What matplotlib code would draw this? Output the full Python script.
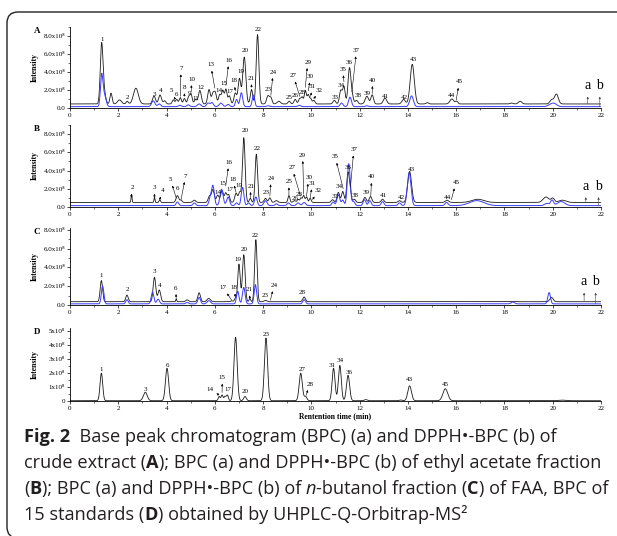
import matplotlib

matplotlib.use("Agg")
import matplotlib.pyplot as plt
import numpy as np
from matplotlib.patches import FancyBboxPatch
from matplotlib.ticker import FuncFormatter, MultipleLocator
from matplotlib.transforms import IdentityTransform

SERIF = ["Liberation Serif", "DejaVu Serif"]
SANS = ["Open Sans", "DejaVu Sans"]

# peaks: (retention time min, height x1e8, width min)
A_bpc = [
    (1.31, 6.6, 0.055), (1.42, 1.2, 0.06), (1.70, 1.2, 0.045), (2.05, 0.45, 0.08),
    (2.37, 0.3, 0.045), (2.73, 1.75, 0.1), (3.48, 0.9, 0.06), (3.73, 1.0, 0.06),
    (3.92, 0.35, 0.05), (4.28, 0.45, 0.045), (4.42, 0.5, 0.045), (4.57, 0.7, 0.045),
    (4.74, 0.6, 0.045), (4.92, 0.8, 0.05), (5.02, 1.0, 0.045), (5.20, 0.5, 0.05),
    (5.38, 1.5, 0.06), (5.76, 1.6, 0.055), (5.92, 1.1, 0.05), (6.02, 1.2, 0.05),
    (6.20, 1.0, 0.05), (6.33, 1.5, 0.05), (6.46, 1.6, 0.045), (6.60, 0.9, 0.05),
    (6.85, 1.2, 0.055), (7.02, 2.8, 0.055), (7.22, 5.2, 0.065), (7.52, 1.6, 0.05),
    (7.77, 7.7, 0.055), (8.20, 0.9, 0.055), (8.32, 0.7, 0.05), (8.65, 0.3, 0.07),
    (9.08, 0.3, 0.05), (9.33, 0.5, 0.05), (9.52, 0.6, 0.05), (9.62, 0.7, 0.04),
    (9.75, 1.5, 0.045), (9.87, 1.0, 0.04), (9.97, 0.6, 0.04), (10.10, 0.4, 0.05),
    (10.95, 0.4, 0.055), (11.22, 1.5, 0.055), (11.35, 1.9, 0.05), (11.58, 4.0, 0.06),
    (11.70, 0.7, 0.05), (11.87, 0.4, 0.055), (12.30, 0.85, 0.07), (12.52, 1.0, 0.055),
    (13.05, 0.65, 0.07), (13.82, 0.5, 0.07), (14.18, 4.4, 0.085), (14.80, 0.15, 0.05),
    (15.82, 0.55, 0.08), (16.02, 0.3, 0.05), (18.30, 0.1, 0.06), (18.65, 0.3, 0.07),
    (19.95, 0.45, 0.07), (20.15, 1.1, 0.08),
]
A_dpph = [
    (1.31, 3.3, 0.05), (1.42, 1.3, 0.07), (3.45, 0.65, 0.07), (3.70, 0.3, 0.06),
    (4.55, 0.15, 0.06), (4.90, 0.2, 0.06), (5.35, 0.3, 0.07), (5.72, 0.4, 0.06),
    (5.88, 0.45, 0.06), (6.25, 0.4, 0.07), (6.55, 0.25, 0.06), (6.90, 0.8, 0.05),
    (7.10, 1.55, 0.055), (7.60, 1.3, 0.05), (8.20, 0.1, 0.06), (9.50, 0.15, 0.06),
    (11.25, 0.4, 0.06), (11.60, 1.05, 0.06), (12.30, 0.1, 0.06), (14.15, 1.2, 0.075),
    (19.95, 0.3, 0.12), (20.10, 0.2, 0.1),
]
B_bpc = [
    (2.55, 0.9, 0.02), (3.50, 0.6, 0.02), (3.72, 0.3, 0.03), (4.45, 0.75, 0.055),
    (4.60, 0.25, 0.045), (5.15, 0.25, 0.06), (5.78, 0.7, 0.055), (5.92, 1.4, 0.055),
    (6.12, 0.8, 0.055), (6.30, 1.3, 0.055), (6.45, 1.0, 0.045), (6.57, 0.85, 0.05),
    (6.88, 1.0, 0.055), (7.03, 1.1, 0.05), (7.20, 7.1, 0.055), (7.47, 0.45, 0.04),
    (7.72, 5.3, 0.05), (8.10, 0.45, 0.055), (8.28, 0.5, 0.045), (8.55, 0.2, 0.06),
    (9.07, 0.75, 0.04), (9.30, 0.2, 0.05), (9.45, 0.35, 0.04), (9.57, 0.5, 0.04),
    (9.68, 0.75, 0.04), (9.80, 0.6, 0.04), (9.95, 0.45, 0.04), (10.88, 0.3, 0.055),
    (11.12, 1.1, 0.055), (11.30, 1.2, 0.05), (11.52, 3.3, 0.055), (11.62, 1.0, 0.04),
    (11.78, 0.35, 0.055), (12.22, 0.55, 0.055), (12.45, 0.65, 0.055), (12.95, 0.35, 0.055),
    (13.65, 0.2, 0.055), (14.07, 3.4, 0.08), (15.62, 0.25, 0.07), (16.90, 0.35, 0.25),
    (19.72, 0.6, 0.12), (20.00, 0.45, 0.07), (20.40, 0.25, 0.15),
]
B_dpph = [
    (4.45, 0.4, 0.055), (5.15, 0.3, 0.055), (5.80, 0.7, 0.05), (5.92, 2.2, 0.06),
    (6.28, 1.8, 0.065), (6.55, 0.95, 0.06), (6.90, 0.3, 0.055), (7.15, 2.0, 0.055),
    (7.40, 0.3, 0.055), (7.70, 0.95, 0.055), (8.10, 0.55, 0.065), (8.55, 0.2, 0.055),
    (9.05, 0.3, 0.055), (9.45, 0.3, 0.065), (9.70, 0.35, 0.065), (10.90, 0.4, 0.055),
    (11.12, 1.2, 0.06), (11.30, 0.6, 0.05), (11.55, 4.6, 0.06), (11.75, 0.45, 0.055),
    (12.20, 0.65, 0.055), (12.42, 0.55, 0.055), (12.95, 0.45, 0.055), (13.65, 0.3, 0.055),
    (14.05, 3.6, 0.075), (15.60, 0.35, 0.065), (16.85, 0.55, 0.3), (19.75, 0.25, 0.09),
    (19.97, 0.6, 0.06), (20.35, 0.45, 0.15),
]
C_bpc = [
    (1.30, 2.25, 0.05), (2.36, 0.7, 0.05), (3.50, 2.6, 0.055), (3.70, 1.25, 0.055),
    (4.40, 0.3, 0.02), (4.85, 0.2, 0.055), (5.35, 0.95, 0.055), (5.75, 0.35, 0.07),
    (6.70, 0.1, 0.04), (6.85, 0.35, 0.04), (7.00, 4.0, 0.05), (7.20, 5.0, 0.055),
    (7.45, 0.35, 0.03), (7.70, 6.6, 0.05), (8.10, 0.15, 0.055), (9.70, 0.5, 0.055),
    (18.40, 0.05, 0.07), (19.95, 0.45, 0.07),
]
C_dpph = [
    (1.35, 1.9, 0.05), (2.36, 0.45, 0.05), (3.42, 1.25, 0.055), (3.65, 0.5, 0.055),
    (4.85, 0.15, 0.055), (5.35, 0.7, 0.055), (5.75, 0.35, 0.07), (6.95, 1.35, 0.05),
    (7.20, 1.75, 0.055), (7.68, 2.05, 0.05), (9.70, 0.45, 0.055), (18.35, 0.2, 0.07),
    (19.85, 1.2, 0.055),
]
D_bpc = [
    (1.30, 1.95, 0.055), (3.12, 0.6, 0.08), (4.02, 2.3, 0.065), (6.18, 0.3, 0.04),
    (6.30, 0.4, 0.04), (6.42, 0.3, 0.04), (6.52, 0.4, 0.04), (6.86, 4.5, 0.065),
    (7.25, 0.3, 0.055), (8.12, 4.45, 0.065), (9.56, 1.95, 0.065), (9.76, 0.3, 0.055),
    (10.92, 2.3, 0.06), (11.18, 2.5, 0.06), (11.52, 1.8, 0.065), (12.25, 0.08, 0.06),
    (13.70, 0.05, 0.06), (14.07, 1.05, 0.075), (15.55, 0.85, 0.1), (20.40, 0.04, 0.15),
]
baselines = {"A": (0.45, 0.15), "B": (0.5, 0.15), "C": (0.35, 0.12), "D": (0.02, None)}

# peak labels: (text, label t, label y[, arrow tip t, tip y])
A_labels = [
    ("1", 1.33, 7.6), ("2", 2.37, 1.15), ("3", 3.49, 1.5), ("4", 3.74, 2.0),
    ("5", 4.21, 1.9, 4.35, 1.0), ("6", 4.42, 1.5), ("7", 4.6, 4.4, 4.57, 1.3),
    ("8", 4.74, 2.3, 4.74, 1.3), ("9", 4.94, 1.6), ("10", 5.04, 3.2, 5.02, 1.8),
    ("11", 5.2, 1.1), ("12", 5.43, 2.3), ("13", 5.83, 4.8, 6.0, 2.2), ("14", 6.17, 2.0),
    ("15", 6.36, 2.7), ("16", 6.59, 5.3, 6.46, 2.5), ("17", 6.64, 1.8),
    ("18", 6.79, 3.0, 6.85, 1.9), ("19", 7.08, 4.1), ("20", 7.26, 6.4),
    ("21", 7.51, 3.3, 7.52, 2.3), ("22", 7.79, 8.7), ("23", 8.22, 2.1),
    ("24", 8.42, 4.0, 8.32, 1.4), ("25", 9.09, 1.15), ("26", 9.33, 1.4),
    ("27", 9.25, 3.6, 9.52, 1.3), ("28", 9.6, 1.7), ("29", 9.85, 5.1, 9.75, 2.3),
    ("30", 9.97, 3.5, 9.87, 1.9), ("31", 10.05, 2.4, 9.97, 1.3), ("32", 10.33, 2.0, 10.1, 1.0),
    ("33", 10.98, 1.15), ("34", 11.23, 2.5), ("35", 11.3, 4.3, 11.35, 2.9), ("36", 11.57, 5.1),
    ("37", 11.87, 6.4, 11.68, 1.8), ("38", 11.92, 1.4), ("39", 12.33, 1.6),
    ("40", 12.54, 3.1, 12.52, 1.6), ("41", 13.05, 1.25), ("42", 13.84, 1.15),
    ("43", 14.22, 5.4), ("44", 15.81, 1.4), ("45", 16.13, 2.9, 16.0, 0.9),
]
B_labels = [
    ("2", 2.57, 2.1, 2.55, 1.4), ("3", 3.49, 2.1, 3.5, 1.1), ("4", 3.82, 1.8, 3.72, 0.8),
    ("5", 4.17, 3.0, 4.4, 1.0), ("6", 4.45, 2.05), ("7", 4.79, 3.4, 4.6, 0.8),
    ("14", 6.15, 1.6), ("15", 6.32, 2.6), ("16", 6.59, 4.9, 6.45, 2.3), ("17", 6.62, 1.9),
    ("18", 6.74, 3.0, 6.88, 1.6), ("19", 7.01, 2.4), ("20", 7.26, 8.4),
    ("21", 7.5, 2.3, 7.47, 1.0), ("22", 7.77, 6.45), ("23", 8.12, 1.6),
    ("24", 8.33, 3.15, 8.28, 1.2), ("25", 9.07, 2.8, 9.07, 1.3), ("26", 9.31, 0.95),
    ("27", 9.2, 4.3, 9.55, 1.2), ("28", 9.5, 1.35), ("29", 9.64, 5.7, 9.68, 1.4),
    ("30", 9.89, 3.2, 9.8, 1.2), ("31", 10.05, 2.6, 9.95, 1.0), ("32", 10.27, 1.8, 10.05, 0.8),
    ("33", 10.98, 1.2), ("34", 11.14, 2.3), ("35", 10.99, 5.5, 11.32, 2.0), ("36", 11.54, 4.3),
    ("37", 11.76, 6.3, 11.62, 2.2), ("38", 11.83, 1.3), ("39", 12.26, 1.6),
    ("40", 12.5, 3.3, 12.46, 1.2), ("41", 12.98, 1.25), ("42", 13.71, 1.0),
    ("43", 14.15, 4.15), ("44", 15.65, 1.0), ("45", 15.99, 2.7, 15.8, 0.8),
]
C_labels = [
    ("1", 1.28, 3.1), ("2", 2.36, 1.6), ("3", 3.48, 3.55), ("4", 3.72, 2.1),
    ("6", 4.38, 1.8, 4.4, 0.7), ("17", 6.35, 1.85, 6.7, 0.5), ("18", 6.81, 1.85, 6.85, 0.8),
    ("19", 6.95, 4.85), ("20", 7.22, 5.9), ("21", 7.43, 1.65, 7.45, 0.75), ("22", 7.67, 7.4),
    ("23", 8.08, 1.05), ("24", 8.46, 2.1, 8.3, 0.5), ("28", 9.64, 1.3),
]
D_labels = [
    ("1", 1.29, 2.2), ("3", 3.13, 0.85), ("6", 4.02, 2.55), ("14", 5.78, 0.85, 6.15, 0.45),
    ("15", 6.31, 1.65, 6.3, 0.6), ("17", 6.53, 0.85), ("20", 7.25, 0.7), ("23", 8.12, 4.75),
    ("27", 9.6, 2.2), ("28", 9.94, 1.2, 9.78, 0.4), ("31", 10.87, 2.55), ("34", 11.21, 2.85),
    ("36", 11.57, 2.05), ("43", 14.08, 1.5), ("45", 15.55, 1.2),
]
# a / b markers: (t of a, t of b, label y)
ab_marks = {"A": (21.45, 21.95, 2.45), "B": (21.37, 21.9, 2.25), "C": (21.3, 21.78, 2.45)}

t = np.linspace(0, 22, 4401)


def trace(peaks, base):
    y = np.full_like(t, base)
    for rt, h, w in peaks:
        y += h * np.exp(-0.5 * ((t - rt) / w) ** 2)
    return y


W, H = 617, 536
fig = plt.figure(figsize=(W / 100, H / 100), dpi=100)

# panel: (letter, top px, bottom px, ymax, major step, black, blue, labels)
panels = [
    ("A", 27, 108, 9.0, 2, A_bpc, A_dpph, A_labels),
    ("B", 125, 207, 9.0, 2, B_bpc, B_dpph, B_labels),
    ("C", 228, 305, 8.2, 2, C_bpc, C_dpph, C_labels),
    ("D", 328, 401, 5.18, 1, D_bpc, None, D_labels),
]
x0, x1 = 70, 601

for letter, top, bot, ymax, step, black, blue, labels in panels:
    ax = fig.add_axes([x0 / W, 1 - bot / H, (x1 - x0) / W, (bot - top) / H])
    b_black, b_blue = baselines[letter]
    ax.plot(t, trace(black, b_black), color="#1a1a1a", lw=0.6)
    if blue is not None:
        ax.plot(t, trace(blue, b_blue), color="#3a3aff", lw=0.7)
    ax.set_xlim(0, 22)
    ax.set_ylim(0, ymax)
    for s in ("top", "right"):
        ax.spines[s].set_visible(False)
    for s in ("left", "bottom"):
        ax.spines[s].set_linewidth(0.6)
    ax.xaxis.set_major_locator(MultipleLocator(2))
    ax.xaxis.set_minor_locator(MultipleLocator(1))
    ax.yaxis.set_major_locator(MultipleLocator(step))
    ax.yaxis.set_minor_locator(MultipleLocator(step / 2))
    if letter == "D":
        fmt = FuncFormatter(lambda v, p: "0" if v == 0 else f"{v:.0f}x10⁸")
    else:
        fmt = FuncFormatter(lambda v, p: "0.0" if v == 0 else f"{v:.1f}x10⁸")
    ax.yaxis.set_major_formatter(fmt)
    ax.tick_params(which="major", length=2, width=0.5, labelsize=5, pad=1.5)
    ax.tick_params(which="minor", length=1.2, width=0.4)
    for lab in ax.get_xticklabels() + ax.get_yticklabels():
        lab.set_family(SERIF)
    ax.set_ylabel("Intensity", family=SERIF, fontsize=5.5, fontweight="bold")
    ax.yaxis.set_label_coords(-0.058, 0.5)
    if letter == "D":
        ax.set_xlabel("Rentention time (min)", family=SERIF, fontsize=5.5,
                      fontweight="bold", labelpad=1)

    for item in labels:
        txt, lx, ly = item[:3]
        if len(item) == 5:
            ax.annotate(txt, xy=(item[3], item[4]), xytext=(lx, ly), ha="center", va="center",
                        fontsize=5, family=SERIF,
                        arrowprops=dict(arrowstyle="<|-", lw=0.4, color="black",
                                        mutation_scale=3, shrinkA=0.5, shrinkB=0))
        else:
            ax.text(lx, ly, txt, ha="center", va="center", fontsize=5, family=SERIF)

    if letter in ab_marks:
        ta, tb, ly = ab_marks[letter]
        for txt, tm, base in (("a", ta, b_black), ("b", tb, b_blue)):
            ax.annotate(txt, xy=(tm, base), xytext=(tm, ly), ha="center", va="center",
                        fontsize=10, family=SERIF,
                        arrowprops=dict(arrowstyle="<|-", lw=0.4, color="#444444",
                                        mutation_scale=3, shrinkA=1, shrinkB=0))

    fig.text(37 / W, 1 - (top + 4) / H, letter, family=SERIF, fontsize=6.5,
             fontweight="bold", ha="center", va="center")

# rounded frame around the figure block
frame = FancyBboxPatch((7, -2), 650, 526, boxstyle="round,pad=0,rounding_size=11",
                       transform=IdentityTransform(), fill=False, lw=1.0, ec="#222222")
fig.add_artist(frame)

# caption, drawn run by run so bold / italic pieces line up
caption = [
    [("Fig. 2", "bold", "normal"),
     ("  Base peak chromatogram (BPC) (a) and DPPH•-BPC (b) of", "normal", "normal")],
    [("crude extract (", "normal", "normal"), ("A", "bold", "normal"),
     ("); BPC (a) and DPPH•-BPC (b) of ethyl acetate fraction", "normal", "normal")],
    [("(", "normal", "normal"), ("B", "bold", "normal"),
     ("); BPC (a) and DPPH•-BPC (b) of ", "normal", "normal"), ("n", "normal", "italic"),
     ("-butanol fraction (", "normal", "normal"), ("C", "bold", "normal"),
     (") of FAA, BPC of", "normal", "normal")],
    [("15 standards (", "normal", "normal"), ("D", "bold", "normal"),
     (") obtained by UHPLC-Q-Orbitrap-MS²", "normal", "normal")],
]
renderer = fig.canvas.get_renderer()


def run_width(s, size, weight, style):
    kw = dict(fontsize=size, family=SANS, fontweight=weight, fontstyle=style)
    a = fig.text(0, 0, "|" + s + "|", **kw)
    b = fig.text(0, 0, "||", **kw)
    w = a.get_window_extent(renderer).width - b.get_window_extent(renderer).width
    a.remove()
    b.remove()
    return w


size = 12.0
line2 = sum(run_width(s, size, wt, st) for s, wt, st in caption[1])
size = size * 573 / line2

baselines_px = [442, 468, 494, 520]
for runs, ybase in zip(caption, baselines_px):
    x = 24.0
    for s, wt, st in runs:
        fig.text(x / W, 1 - ybase / H, s, fontsize=size, family=SANS, fontweight=wt,
                 fontstyle=st, color="#231f20", va="baseline", ha="left")
        x += run_width(s, size, wt, st)

fig.savefig("out.png", dpi=100)
